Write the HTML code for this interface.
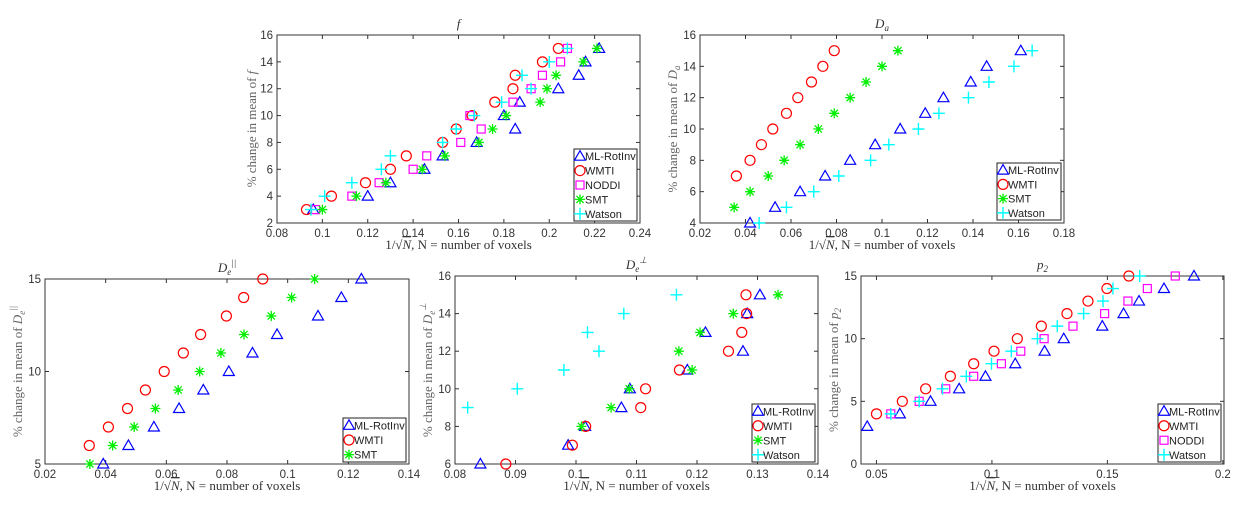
<!DOCTYPE html>
<html><head><meta charset="utf-8">
<style>
body{margin:0;background:#fff;}
svg{display:block;font-family:"Liberation Sans",sans-serif;}
.tick{font-size:11.5px;fill:#333;}
.lab{font-family:"Liberation Serif",serif;font-size:13px;fill:#333;}
.ylab{font-family:"Liberation Serif",serif;font-size:13px;fill:#666;}
.leg{font-size:11px;fill:#222;}
</style></head><body>
<svg id="fig" width="1238" height="513" viewBox="0 0 1238 513"></svg>
<script>
const fY_ML=[3,4,5,6,7,8,9,10,11,12,13,14,15];
const fX_ML=[0.096,0.12,0.13,0.145,0.153,0.168,0.185,0.18,0.187,0.204,0.213,0.216,0.222];
const fX_WMTI=[0.093,0.104,0.119,0.13,0.137,0.153,0.159,0.166,0.176,0.184,0.185,0.197,0.204];
const fX_NODDI=[0.097,0.113,0.125,0.14,0.146,0.161,0.17,0.165,0.184,0.192,0.197,0.205,0.208];
const fX_SMT=[0.1,0.115,0.128,0.144,0.154,0.169,0.175,0.181,0.196,0.199,0.203,0.215,0.221];
const fX_Watson=[0.095,0.101,0.113,0.126,0.13,0.153,0.159,0.167,0.179,0.192,0.188,0.2,0.208];

const daY_ML=[4,5,6,7,8,9,10,11,12,13,14,15];
const daX_ML=[0.042,0.053,0.064,0.075,0.086,0.097,0.108,0.119,0.127,0.139,0.146,0.161];
const daY_WMTI=[7,8,9,10,11,12,13,14,15];
const daX_WMTI=[0.036,0.042,0.047,0.052,0.058,0.063,0.069,0.074,0.079];
const daY_SMT=[5,6,7,8,9,10,11,12,13,14,15];
const daX_SMT=[0.035,0.042,0.05,0.057,0.064,0.072,0.079,0.086,0.093,0.1,0.107];
const daY_Watson=[4,5,6,7,8,9,10,11,12,13,14,15];
const daX_Watson=[0.046,0.058,0.07,0.081,0.095,0.103,0.116,0.125,0.138,0.147,0.158,0.166];

const dpY_ML=[5,6,7,8,9,10,11,12,13,14,15];
const dpX_ML=[0.0392,0.0475,0.0559,0.0642,0.0722,0.0806,0.0884,0.0965,0.11,0.1177,0.1243];
const dpY_WMTI=[6,7,8,9,10,11,12,13,14,15];
const dpX_WMTI=[0.0346,0.0409,0.0472,0.0531,0.0593,0.0656,0.0713,0.0798,0.0855,0.0918];
const dpY_SMT=[5,6,7,8,9,10,11,12,13,14,15];
const dpX_SMT=[0.0348,0.0423,0.0494,0.0564,0.0639,0.071,0.078,0.0856,0.0946,0.1013,0.1089];

const dtY_ML=[6,7,8,9,10,11,12,13,14,15];
const dtX_ML=[0.0842,0.0987,0.1015,0.1075,0.1089,0.1184,0.1276,0.1214,0.1283,0.1304];
const dtY_WMTI=[6,7,8,9,10,11,12,13,14,15];
const dtX_WMTI=[0.0884,0.0994,0.1016,0.1107,0.1115,0.1171,0.1252,0.1274,0.1282,0.1281];
const dtY_SMT=[8,9,10,11,12,13,14,15];
const dtX_SMT=[0.1009,0.1058,0.1088,0.1192,0.117,0.1205,0.126,0.1334];
const dtY_Watson=[9,10,11,12,13,14,15];
const dtX_Watson=[0.0821,0.0903,0.098,0.1038,0.1019,0.1079,0.1166];

const p2Y_ML=[3,4,5,6,7,8,9,10,11,12,13,14,15];
const p2X_ML=[0.046,0.0601,0.0734,0.0858,0.0972,0.1101,0.1228,0.1311,0.1478,0.157,0.1637,0.1745,0.1875];
const p2Y=[4,5,6,7,8,9,10,11,12,13,14,15];
const p2X_WMTI=[0.05,0.0612,0.0713,0.082,0.0921,0.1009,0.111,0.1214,0.1325,0.1416,0.1498,0.1593];
const p2X_NODDI=[0.0562,0.0685,0.08,0.0921,0.1041,0.1125,0.1226,0.1351,0.1488,0.1589,0.1673,0.1794];
const p2X_Watson=[0.0562,0.0685,0.0786,0.0889,0.0998,0.1084,0.1197,0.1283,0.1397,0.1481,0.1524,0.164];

const fTicksX=[0.08,0.1,0.12,0.14,0.16,0.18,0.2,0.22,0.24];
const fTicksY=[2,4,6,8,10,12,14,16];
const daTicksX=[0.02,0.04,0.06,0.08,0.1,0.12,0.14,0.16,0.18];
const daTicksY=[4,6,8,10,12,14,16];
const dpTicksX=[0.02,0.04,0.06,0.08,0.1,0.12,0.14];
const dpTicksY=[5,10,15];
const dtTicksX=[0.08,0.09,0.1,0.11,0.12,0.13,0.14];
const dtTicksY=[6,8,10,12,14,16];
const p2TicksX=[0.05,0.1,0.15,0.2];
const p2TicksY=[0,5,10,15];

const NS="http://www.w3.org/2000/svg";
const svg=document.getElementById('fig');
function el(t,a,p){const e=document.createElementNS(NS,t);for(const k in a)e.setAttribute(k,a[k]);(p||svg).appendChild(e);return e;}
const COL={ML:'#0000ff',WMTI:'#ff0000',NODDI:'#ff00ff',SMT:'#00ee00',Watson:'#00ffff'};
const LBL={ML:'ML-RotInv',WMTI:'WMTI',NODDI:'NODDI',SMT:'SMT',Watson:'Watson'};
function marker(g,kind,cx,cy){
  const c=COL[kind];let m;
  if(kind==='ML'){m=el('polygon',{points:`${cx-5.5},${cy+4} ${cx+5.5},${cy+4} ${cx},${cy-5.5}`,fill:'none',stroke:c,'stroke-width':1.2},g);}
  else if(kind==='WMTI'){m=el('circle',{cx:cx,cy:cy,r:5,fill:'none',stroke:c,'stroke-width':1.2},g);}
  else if(kind==='NODDI'){m=el('rect',{x:cx-4,y:cy-4,width:8,height:8,fill:'none',stroke:c,'stroke-width':1.2},g);}
  else if(kind==='SMT'){m=el('path',{d:`M${cx-5},${cy}H${cx+5}M${cx},${cy-5}V${cy+5}M${cx-3.6},${cy-3.6}L${cx+3.6},${cy+3.6}M${cx-3.6},${cy+3.6}L${cx+3.6},${cy-3.6}`,stroke:c,'stroke-width':1.3,fill:'none'},g);}
  else {m=el('path',{d:`M${cx-6},${cy}H${cx+6}M${cx},${cy-6}V${cy+6}`,stroke:c,'stroke-width':1.4,fill:'none'},g);}
  return m;
}
function plot(cfg){
  const g=el('g',{});
  
  
  const [L,R,T,B]=cfg.box;
  const sx=v=>L+(v-cfg.xlim[0])/(cfg.xlim[1]-cfg.xlim[0])*(R-L);
  const sy=v=>B-(v-cfg.ylim[0])/(cfg.ylim[1]-cfg.ylim[0])*(B-T);
  const frame=el('rect',{x:L,y:T,width:R-L,height:B-T,fill:'#fff',stroke:'#333','stroke-width':1},g);
  
  
  cfg.tx.forEach(v=>{const x=sx(v);
    el('line',{x1:x,x2:x,y1:B,y2:B-4,stroke:'#333'},g);
    el('line',{x1:x,x2:x,y1:T,y2:T+4,stroke:'#333'},g);
    const t=el('text',{x:x,y:B+14,'text-anchor':'middle',class:'tick'},g);t.textContent=String(v);
    
    
  });
  cfg.ty.forEach(v=>{const y=sy(v);
    el('line',{x1:L,x2:L+4,y1:y,y2:y,stroke:'#333'},g);
    el('line',{x1:R,x2:R-4,y1:y,y2:y,stroke:'#333'},g);
    const t=el('text',{x:L-4,y:y+4,'text-anchor':'end',class:'tick'},g);t.textContent=String(v);
    
    
  });
  cfg.series.forEach(s=>{
    const sg=el('g',{},g);
    
    
    s.x.forEach((xv,i)=>{
      const m=marker(sg,s.k,sx(xv),sy(s.y[i]));
      
      
    });
  });
  const [lx,ly,lw,lh]=cfg.leg;
  const lg=el('g',{},g);
  
  
  el('rect',{x:lx,y:ly,width:lw,height:lh,fill:'#fff',stroke:'#222','stroke-width':1},lg);
  const rh=lh/cfg.series.length;
  cfg.series.forEach((s,i)=>{
    const cy=ly+rh*(i+0.5);
    const e=el('g',{},lg);
    
    
    marker(e,s.k,lx+6,cy);
    const t=el('text',{x:lx+11,y:cy+4,class:'leg'},e);t.textContent=LBL[s.k];
  });
  const tt=el('text',{x:(L+R)/2,y:T-7,'text-anchor':'middle',class:'lab','font-style':'italic'},g);
  tt.innerHTML=cfg.title;
  
  
  const xl=el('text',{x:(L+R)/2,y:B+26,'text-anchor':'middle',class:'lab'},g);
  xl.innerHTML='1/√<tspan font-style="italic" text-decoration="overline">N</tspan>, N = number of voxels';
  
  
  const yl=el('text',{x:0,y:0,'text-anchor':'middle',class:'ylab',transform:`translate(${cfg.ylx},${(T+B)/2}) rotate(-90)`},g);
  yl.innerHTML='% change in mean of '+cfg.ysym;
  
  
}
plot({name:'plot-f',box:[277,640,35,223],xlim:[0.08,0.24],ylim:[2,16],tx:fTicksX,ty:fTicksY,
  series:[{k:'ML',x:fX_ML,y:fY_ML},{k:'WMTI',x:fX_WMTI,y:fY_ML},{k:'NODDI',x:fX_NODDI,y:fY_ML},{k:'SMT',x:fX_SMT,y:fY_ML},{k:'Watson',x:fX_Watson,y:fY_ML}],
  leg:[574,149,63,72],title:'f',ysym:'<tspan font-style="italic">f</tspan>',ylx:256});
plot({name:'plot-da',box:[700,1064,35,223],xlim:[0.02,0.18],ylim:[4,16],tx:daTicksX,ty:daTicksY,
  series:[{k:'ML',x:daX_ML,y:daY_ML},{k:'WMTI',x:daX_WMTI,y:daY_WMTI},{k:'SMT',x:daX_SMT,y:daY_SMT},{k:'Watson',x:daX_Watson,y:daY_Watson}],
  leg:[997,163,64,57],title:'D<tspan font-size="9" dy="3">a</tspan>',ysym:'<tspan font-style="italic">D<tspan font-size="9" dy="3">a</tspan></tspan>',ylx:677});
plot({name:'plot-de-parallel',box:[45,409,279,464],xlim:[0.02,0.14],ylim:[5,15],tx:dpTicksX,ty:dpTicksY,
  series:[{k:'ML',x:dpX_ML,y:dpY_ML},{k:'WMTI',x:dpX_WMTI,y:dpY_WMTI},{k:'SMT',x:dpX_SMT,y:dpY_SMT}],
  leg:[343,418,63,44],title:'D<tspan font-size="9" dy="3">e</tspan><tspan font-size="9" dy="-9">||</tspan>',ysym:'<tspan font-style="italic">D<tspan font-size="9" dy="3">e</tspan><tspan font-size="9" dy="-9">||</tspan></tspan>',ylx:22});
plot({name:'plot-de-perp',box:[455,818,276,464],xlim:[0.08,0.14],ylim:[6,16],tx:dtTicksX,ty:dtTicksY,
  series:[{k:'ML',x:dtX_ML,y:dtY_ML},{k:'WMTI',x:dtX_WMTI,y:dtY_WMTI},{k:'SMT',x:dtX_SMT,y:dtY_SMT},{k:'Watson',x:dtX_Watson,y:dtY_Watson}],
  leg:[752,404,63,58],title:'D<tspan font-size="9" dy="3">e</tspan><tspan font-size="9" dy="-9">⊥</tspan>',ysym:'<tspan font-style="italic">D<tspan font-size="9" dy="3">e</tspan><tspan font-size="9" dy="-9">⊥</tspan></tspan>',ylx:432});
plot({name:'plot-p2',box:[861,1224,276,464],xlim:[0.0433,0.2005],ylim:[0,15],tx:p2TicksX,ty:p2TicksY,
  series:[{k:'ML',x:p2X_ML,y:p2Y_ML},{k:'WMTI',x:p2X_WMTI,y:p2Y},{k:'NODDI',x:p2X_NODDI,y:p2Y},{k:'Watson',x:p2X_Watson,y:p2Y}],
  leg:[1158,404,63,58],title:'p<tspan font-size="9" dy="3">2</tspan>',ysym:'<tspan font-style="italic">p<tspan font-size="9" dy="3">2</tspan></tspan>',ylx:838});
</script>
</body></html>
